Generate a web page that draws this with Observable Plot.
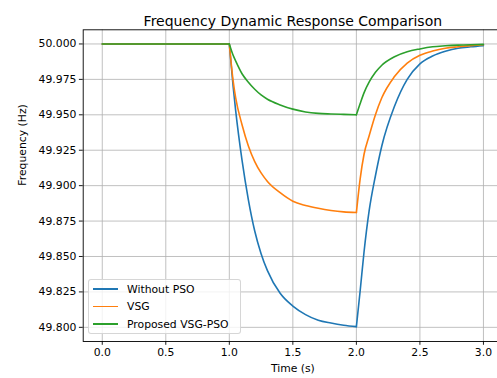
<!DOCTYPE html>
<html>
<head>
<meta charset="utf-8">
<script src="https://cdn.jsdelivr.net/npm/d3@7"></script>
<script src="https://cdn.jsdelivr.net/npm/@observablehq/plot@0.6"></script>
<style>
  html, body { margin: 0; padding: 0; background: #fff; overflow: hidden; }
  #wrap { position: relative; width: 497px; height: 378px; font-family: "DejaVu Sans", sans-serif; }
  #legend { position: absolute; left: 88px; top: 279px; width: 153px; height: 55px; box-sizing: border-box;
    background: rgba(255,255,255,0.8); border: 1px solid rgba(204,204,204,0.8); border-radius: 3px; }
  .row { position: absolute; left: 0; height: 14px; display: flex; align-items: center; font-size: 10.8px; color: #000; white-space: nowrap; }
  .sw { display: inline-block; width: 25px; height: 1.7px; margin-left: 4px; margin-right: 9px; }
</style>
</head>
<body>
<div id="wrap"></div>
<script>
const title = "Frequency Dynamic Response Comparison";
const xLabel = "Time (s)";
const yLabel = "Frequency (Hz)";
const seriesNames = ["Without PSO", "VSG", "Proposed VSG-PSO"];
const seriesColors = ["#1f77b4", "#ff7f0e", "#2ca02c"];
const xTicks = [0, 0.5, 1.0, 1.5, 2.0, 2.5, 3.0];
const yTicks = [49.8, 49.825, 49.85, 49.875, 49.9, 49.925, 49.95, 49.975, 50.0];

// steady part
const flatTime = [0, 1.0];
const flatValue = [50.0, 50.0];

// disturbance (t = 1..2)
const fallTime = [1.0, 1.03, 1.05, 1.1, 1.15, 1.2, 1.25, 1.3, 1.4, 1.5, 1.6, 1.7, 1.8, 1.9, 2.0];
const fallWithoutPSO = [50.0, 49.970, 49.953, 49.918, 49.890, 49.868, 49.852, 49.840, 49.824, 49.815, 49.809, 49.805, 49.803, 49.8015, 49.8005];
const fallVSG = [50.0, 49.974, 49.962, 49.943, 49.928, 49.917, 49.909, 49.903, 49.895, 49.889, 49.886, 49.884, 49.8825, 49.8815, 49.881];
const fallProposed = [50.0, 49.992, 49.988, 49.979, 49.973, 49.968, 49.964, 49.961, 49.957, 49.954, 49.952, 49.951, 49.9506, 49.9503, 49.950];

// recovery (t = 2..3)
const riseTime = [2.0, 2.03, 2.06, 2.1, 2.15, 2.2, 2.3, 2.4, 2.5, 2.6, 2.7, 2.8, 2.9, 3.0];
const riseWithoutPSO = [49.8005, 49.826, 49.853, 49.882, 49.907, 49.928, 49.956, 49.975, 49.986, 49.9915, 49.9948, 49.997, 49.998, 49.9988];
const riseVSG = [49.881, 49.905, 49.922, 49.935, 49.950, 49.962, 49.977, 49.9865, 49.992, 49.995, 49.997, 49.998, 49.9988, 49.9994];
const riseProposed = [49.950, 49.958, 49.9655, 49.973, 49.980, 49.985, 49.991, 49.9945, 49.9965, 49.998, 49.9987, 49.9992, 49.9995, 49.9997];

const fallBySeries = [fallWithoutPSO, fallVSG, fallProposed];
const riseBySeries = [riseWithoutPSO, riseVSG, riseProposed];

const rows = [];
seriesNames.forEach((s, i) => {
  flatTime.forEach((t, j) => rows.push({t, f: flatValue[j], series: s, seg: "flat"}));
  fallTime.forEach((t, j) => rows.push({t, f: fallBySeries[i][j], series: s, seg: "fall"}));
  riseTime.forEach((t, j) => rows.push({t, f: riseBySeries[i][j], series: s, seg: "rise"}));
});

const gridStyle = {stroke: "#b0b0b0", strokeOpacity: 1, strokeWidth: 0.8};

const chart = Plot.plot({
  width: 497,
  height: 378,
  marginLeft: 82.7,
  marginRight: -5,
  marginTop: 29.3,
  marginBottom: 37,
  style: {fontFamily: "DejaVu Sans", fontSize: "10.8px", color: "#000", background: "#fff"},
  x: {domain: [-0.15, 3.15]},
  y: {domain: [49.79, 50.01]},
  color: {domain: seriesNames, range: seriesColors},
  marks: [
    Plot.gridX(xTicks, gridStyle),
    Plot.gridY(yTicks, gridStyle),
    Plot.line(rows, {x: "t", y: "f", z: d => d.series + "-" + d.seg, stroke: "series", strokeWidth: 1.6, curve: "monotone-x"}),
    Plot.frame({stroke: "#000", strokeWidth: 0.9}),
    Plot.axisX(xTicks, {tickFormat: d3.format(".1f"), tickSize: 3.8, tickPadding: 3.5, label: null, strokeWidth: 0.9}),
    Plot.axisY(yTicks, {tickFormat: d3.format(".3f"), tickSize: 3.8, tickPadding: 3, label: null, strokeWidth: 0.9}),
    Plot.text([title], {frameAnchor: "top", dy: -14, fontSize: 14, fill: "#000"}),
    Plot.text([xLabel], {frameAnchor: "bottom", dy: 30, fontSize: 10.8, fill: "#000"}),
    Plot.text([yLabel], {frameAnchor: "left", dx: -61, rotate: -90, fontSize: 10.8, fill: "#000"})
  ]
});

const wrap = document.getElementById("wrap");
wrap.appendChild(chart);

const legend = document.createElement("div");
legend.id = "legend";
const rowTops = [2, 19.5, 37];
seriesNames.forEach((s, i) => {
  const r = document.createElement("div");
  r.className = "row";
  r.style.top = rowTops[i] + "px";
  const sw = document.createElement("span");
  sw.className = "sw";
  sw.style.background = seriesColors[i];
  const tx = document.createElement("span");
  tx.textContent = s;
  r.appendChild(sw);
  r.appendChild(tx);
  legend.appendChild(r);
});
wrap.appendChild(legend);
</script>
</body>
</html>
